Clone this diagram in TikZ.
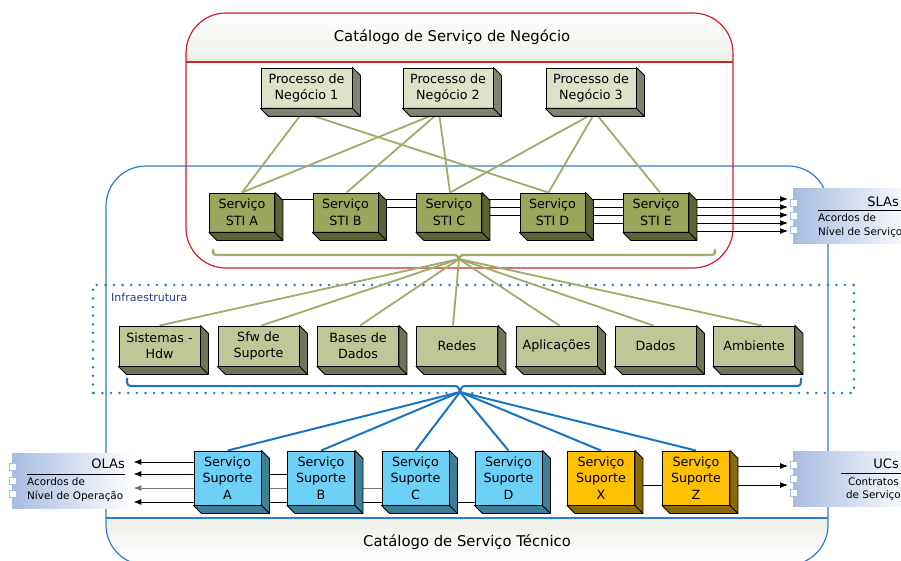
\documentclass[tikz,border=0pt]{standalone}
\usepackage{fontspec}
\setmainfont{DejaVu Sans}
\usetikzlibrary{arrows.meta,calc}

\definecolor{procfront}{HTML}{DDE2C9}
\definecolor{procside}{HTML}{7F8470}
\definecolor{stifront}{HTML}{9BA55C}
\definecolor{stiside}{HTML}{5C6436}
\definecolor{infrafront}{HTML}{C0C796}
\definecolor{infraside}{HTML}{717458}
\definecolor{supfront}{HTML}{6DD0F7}
\definecolor{supside}{HTML}{3F7E96}
\definecolor{extfront}{HTML}{FFC000}
\definecolor{extside}{HTML}{8A6A05}
\definecolor{wireolive}{HTML}{A2AA68}
\definecolor{wireblue}{HTML}{1874C4}
\definecolor{bizred}{HTML}{CC2229}
\definecolor{techblue}{HTML}{2A7FD0}
\definecolor{dotblue}{HTML}{1E7BD0}
\definecolor{agreeblue}{HTML}{A8BCE0}
\definecolor{tabedge}{HTML}{AEBCD8}
\definecolor{navy}{HTML}{1F3F88}
\definecolor{paleband}{HTML}{EEEEE8}

\pgfdeclarelayer{frame}
\pgfdeclarelayer{wires}
\pgfsetlayers{frame,wires,main}

\tikzset{
  cubeface/.style={draw=black, line width=0.9pt, inner sep=0pt, align=center,
    font=\fontsize{12.7}{16.5}\selectfont},
  olivewire/.style={draw=wireolive, line width=1.8pt},
  bluewire/.style={draw=wireblue, line width=2pt},
  blackwire/.style={draw=black, line width=0.9pt},
  arrowwire/.style={blackwire, -{Latex[length=8pt,width=6pt]}},
  agreebox/.style={inner sep=0pt, left color=agreeblue, right color=white, anchor=north west},
  agreetab/.style={fill=white, draw=tabedge, line width=0.8pt},
  agreehead/.style={inner sep=0pt, font=\fontsize{13}{15}\selectfont},
  agreetext/.style={inner sep=0pt, font=\fontsize{10.4}{14}\selectfont},
  catalogtitle/.style={inner sep=0pt, font=\fontsize{14.8}{17}\selectfont},
}

% 3D box: name, x, y, width, height, front colour, side colour, text
\newcommand\cubebox[8]{%
  \node[cubeface, fill=#6, minimum width=#4, minimum height=#5] (#1) at (#2,#3) {#8};
  \filldraw[fill=#7, draw=black, line width=0.9pt, line join=round]
    (#1.north east) -- ++(8,8) -- ($(#1.south east)+(8,8)$) -- ($(#1.south west)+(8,8)$)
    -- (#1.south west) -- (#1.south east) -- cycle;
  \draw[black, line width=0.9pt] (#1.south east) -- ++(8,8);
}

\begin{document}
\begin{tikzpicture}[x=1pt,y=-1pt]
\clip (0,0) rectangle (901,561);

\begin{pgfonlayer}{frame}
  % technical service catalogue
  \begin{scope}
    \clip[rounded corners=40pt] (106,166) rectangle (828,565);
    \shade[top color=paleband, bottom color=white] (106,518) rectangle (828,565);
  \end{scope}
  \draw[techblue, line width=1.2pt, rounded corners=40pt] (106,166) rectangle (828,565);
  \draw[techblue, line width=1.2pt] (106,518) -- (828,518);
  % business service catalogue
  \begin{scope}
    \clip[rounded corners=40pt] (186,13) rectangle (733,268);
    \shade[top color=white, bottom color=paleband] (186,13) rectangle (733,62);
  \end{scope}
  \draw[bizred, line width=1.2pt, rounded corners=40pt] (186,13) rectangle (733,268);
  \draw[bizred, line width=1.2pt] (186,62) -- (733,62);
  % infrastructure area
  \draw[dotblue, line width=2.8pt, line cap=round, dash pattern=on 0pt off 8.6pt]
    (93,393) -- (93,285) -- (854,285) -- (854,393) -- cycle;
\end{pgfonlayer}

\node[catalogtitle] (bizTitle) at (452,37) {Catálogo de Serviço de Negócio};
\node[catalogtitle] (techTitle) at (467,542) {Catálogo de Serviço Técnico};
\node[inner sep=0pt, anchor=west, text=navy, font=\fontsize{11}{13}\selectfont] (infraLabel) at (111,297) {Infraestrutura};

% business processes
\cubebox{p1}{306.5}{88}{91pt}{40pt}{procfront}{procside}{Processo de\\Negócio 1}
\cubebox{p2}{448}{88}{90pt}{40pt}{procfront}{procside}{Processo de\\Negócio 2}
\cubebox{p3}{591}{88}{90pt}{40pt}{procfront}{procside}{Processo de\\Negócio 3}

% IT services
\cubebox{stiA}{242}{212.5}{65pt}{39pt}{stifront}{stiside}{Serviço\\STI A}
\cubebox{stiB}{345.5}{212.5}{65pt}{39pt}{stifront}{stiside}{Serviço\\STI B}
\cubebox{stiC}{449}{212.5}{65pt}{39pt}{stifront}{stiside}{Serviço\\STI C}
\cubebox{stiD}{552.5}{212.5}{65pt}{39pt}{stifront}{stiside}{Serviço\\STI D}
\cubebox{stiE}{656}{212.5}{65pt}{39pt}{stifront}{stiside}{Serviço\\STI E}

% infrastructure
\cubebox{inSis}{159.5}{346}{81pt}{40pt}{infrafront}{infraside}{Sistemas -\\Hdw}
\cubebox{inSfw}{258.5}{346}{81pt}{40pt}{infrafront}{infraside}{Sfw de\\Suporte}
\cubebox{inBas}{358}{346}{81pt}{40pt}{infrafront}{infraside}{Bases de\\Dados}
\cubebox{inRed}{457}{346}{81pt}{40pt}{infrafront}{infraside}{Redes}
\cubebox{inApl}{556.5}{346}{81pt}{40pt}{infrafront}{infraside}{Aplicações}
\cubebox{inDad}{655.5}{346}{81pt}{40pt}{infrafront}{infraside}{Dados}
\cubebox{inAmb}{754}{346}{81pt}{40pt}{infrafront}{infraside}{Ambiente}

% support services
\cubebox{supA}{227.5}{478}{67pt}{54pt}{supfront}{supside}{Serviço\\Suporte\\A}
\cubebox{supB}{321}{478}{67pt}{54pt}{supfront}{supside}{Serviço\\Suporte\\B}
\cubebox{supC}{415.5}{478}{67pt}{54pt}{supfront}{supside}{Serviço\\Suporte\\C}
\cubebox{supD}{508.5}{478}{67pt}{54pt}{supfront}{supside}{Serviço\\Suporte\\D}
\cubebox{supX}{601}{478}{67pt}{54pt}{extfront}{extside}{Serviço\\Suporte\\X}
\cubebox{supZ}{696}{478}{67pt}{54pt}{extfront}{extside}{Serviço\\Suporte\\Z}

% agreements
\node[agreebox, minimum width=120pt, minimum height=55pt] (sla) at (793,188) {};
\node[agreebox, minimum width=120pt, minimum height=55pt] (ucs) at (793,451) {};
\node[agreebox, minimum width=121pt, minimum height=55pt] (ola) at (12,453) {};
\foreach \ty in {199,212,226} \filldraw[agreetab] (790,\ty) rectangle ++(7,7);
\foreach \ty in {461,475,489} \filldraw[agreetab] (790,\ty) rectangle ++(7,7);
\foreach \ty in {463,477,490} \filldraw[agreetab] (9,\ty) rectangle ++(7,7);

\node[agreehead, anchor=east] (slaHead) at (899,202) {SLAs};
\draw[black, line width=0.9pt] (818,210) -- (901,210);
\node[agreetext, anchor=west] (slaL1) at (818,218) {Acordos de};
\node[agreetext, anchor=west] (slaL2) at (818,232) {Nível de Serviço};

\node[agreehead, anchor=east] (ucsHead) at (899,464) {UCs};
\draw[black, line width=0.9pt] (841,473) -- (901,473);
\node[agreetext, anchor=east] (ucsL1) at (899,482) {Contratos};
\node[agreetext, anchor=east] (ucsL2) at (901,496) {de Serviço};

\node[agreehead, anchor=east] (olaHead) at (125,464) {OLAs};
\draw[black, line width=0.9pt] (27,474) -- (125,474);
\node[agreetext, anchor=west] (olaL1) at (27,482) {Acordos de};
\node[agreetext, anchor=west] (olaL2) at (27,496) {Nível de Operação};

\coordinate (gTip) at (459,259);
\coordinate (bTip) at (460,392);

\begin{pgfonlayer}{wires}
  % processes to IT services
  \draw[olivewire] ($(p1.south)+(-4,4)$) -- (stiA.north);
  \draw[olivewire] ($(p1.south)+(-4,4)$) -- ($(stiD.north)+(-4,0)$);
  \draw[olivewire] ($(p2.south)+(-9,4)$) -- (stiA.north);
  \draw[olivewire] ($(p2.south)+(-9,4)$) -- ($(stiB.north)+(1,0)$);
  \draw[olivewire] ($(p2.south)+(-9,4)$) -- ($(stiC.north)+(1,0)$);
  \draw[olivewire] ($(p3.south)+(4,4)$) -- ($(stiC.north)+(1,0)$);
  \draw[olivewire] ($(p3.south)+(4,4)$) -- ($(stiD.north)+(-4,0)$);
  \draw[olivewire] ($(p3.south)+(4,4)$) -- ($(stiE.north)+(4,0)$);

  % IT services to SLAs
  \draw[arrowwire, shorten >=5pt] (stiA |- 0,199) -- (sla.west |- 0,199);
  \draw[arrowwire, shorten >=5pt] (stiB |- 0,207) -- (sla.west |- 0,207);
  \draw[arrowwire, shorten >=5pt] (stiC |- 0,215) -- (sla.west |- 0,215);
  \draw[arrowwire, shorten >=5pt] (stiD |- 0,223) -- (sla.west |- 0,223);
  \draw[arrowwire, shorten >=5pt] (stiE |- 0,231) -- (sla.west |- 0,231);

  % infrastructure fan
  \draw[olivewire] (gTip) -- (inSis.north);
  \draw[olivewire] (gTip) -- ($(inSfw.north)+(3,0)$);
  \draw[olivewire] (gTip) -- ($(inBas.north)+(2,0)$);
  \draw[olivewire] (gTip) -- ($(inRed.north)+(-4,0)$);
  \draw[olivewire] (gTip) -- ($(inApl.north)+(3,0)$);
  \draw[olivewire] (gTip) -- ($(inDad.north)+(-2,0)$);
  \draw[olivewire] (gTip) -- ($(inAmb.north)+(8,0)$);

  % support fan
  \draw[bluewire] (bTip) -- (supA.north);
  \draw[bluewire] (bTip) -- (supB.north);
  \draw[bluewire] (bTip) -- (supC.north);
  \draw[bluewire] (bTip) -- (supD.north);
  \draw[bluewire] (bTip) -- (supX.north);
  \draw[bluewire] (bTip) -- (supZ.north);

  % support services to OLAs and UCs
  \draw[arrowwire] (supA |- 0,462) -- (ola.east |- 0,462);
  \draw[arrowwire] (supB |- 0,474) -- (ola.east |- 0,474);
  \draw[arrowwire, draw=black!55] (supC |- 0,488) -- (ola.east |- 0,488);
  \draw[arrowwire] (supD |- 0,502) -- (ola.east |- 0,502);
  \draw[arrowwire, shorten >=5pt] (supZ |- 0,466) -- (ucs.west |- 0,466);
  \draw[arrowwire, shorten >=5pt] (supX |- 0,485) -- (ucs.west |- 0,485);
\end{pgfonlayer}

% braces gathering the services
\draw[wireolive, line width=2.4pt, line join=round]
  (213,249) .. controls (213,255) .. (220,255) -- (452,255)
  .. controls (457,255) .. (459,259) .. controls (461,255) .. (466,255)
  -- (708,255) .. controls (715,255) .. (715,249);
\draw[wireblue, line width=2pt, line join=round]
  (127,378) .. controls (127,386) .. (135,386) -- (453,386)
  .. controls (458,386) .. (460,392) .. controls (462,386) .. (467,386)
  -- (793,386) .. controls (801,386) .. (801,378);

\end{tikzpicture}
\end{document}
